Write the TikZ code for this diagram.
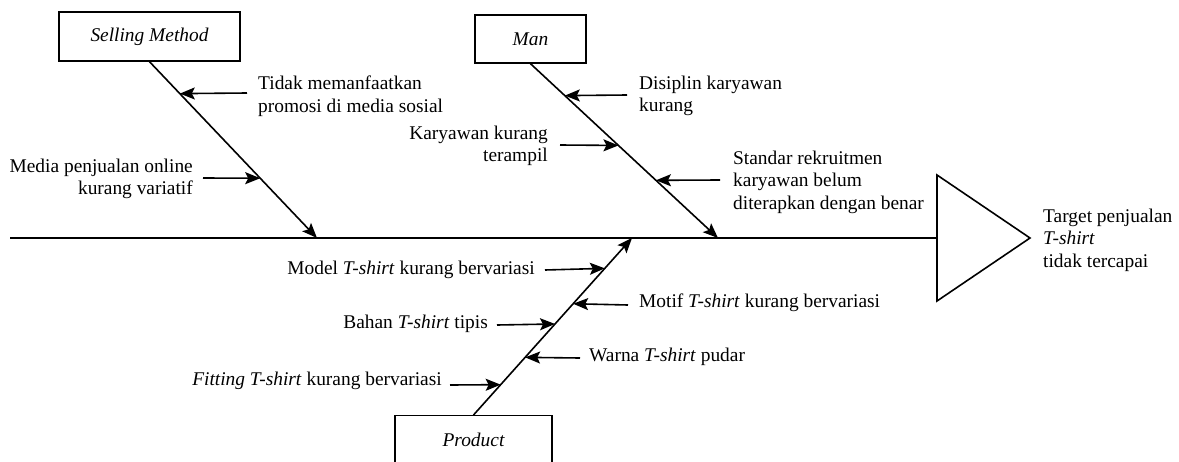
\documentclass[tikz,border=0pt]{standalone}
\usepackage{fontspec}
\setmainfont{Liberation Serif}[Ligatures=TeX]
\usetikzlibrary{arrows.meta}
\tikzset{
  lbl/.style={font=\fontsize{19.4}{22.5}\selectfont, inner sep=0pt},
  catbox/.style={draw, line width=1.4pt, inner sep=0pt, font=\fontsize{19.4}{22.5}\selectfont\itshape},
  bone/.style={line width=1.6pt, -{Stealth[length=15pt,width=12pt,inset=3pt]}},
  sub/.style={line width=1.6pt, -{Stealth[length=15pt,width=12pt,inset=3pt]}},
  spine/.style={line width=1.6pt}
}
\begin{document}
\begin{tikzpicture}[x=1pt,y=-1pt]
\useasboundingbox (0,0) rectangle (1179,461);
% category boxes
\node[catbox, minimum width=181pt, minimum height=49pt] (sm) at (149.5,36.5) {Selling Method};
\node[catbox, minimum width=111pt, minimum height=48pt] (man) at (530.5,39) {Man};
\node[catbox, minimum width=157pt, minimum height=50pt, anchor=north] (prod) at (473.5,415) {};
\node[lbl, font=\fontsize{19.4}{22.5}\selectfont\itshape] (prodt) at (473.5,440) {Product};
% spine and head
\coordinate (sp0) at (10,238);
\coordinate (hA) at (937,175);
\coordinate (hB) at (1030,238);
\coordinate (hC) at (937,301);
\coordinate (hL) at (937,238);
\draw[spine] (sp0) -- (hL);
\draw[spine, line join=miter] (hA) -- (hB) -- (hC) -- cycle;
\node[lbl, align=left, anchor=west] (eff) at (1043,240) {Target penjualan\\\textit{T-shirt}\\tidak tercapai};
% bone end points on spine
\coordinate (smE) at (317,238);
\coordinate (manE) at (718,238);
\coordinate (prE) at (632,238);
\coordinate (smS) at (sm.south);
\coordinate (manS) at (man.south);
\coordinate (prS) at (prod.north);
\draw[bone] (smS) -- (smE);
\draw[bone] (manS) -- (manE);
\draw[bone] (prS) -- (prE);
% Selling method causes
\path (smS) -- (smE) coordinate[pos=0.181] (sm1) coordinate[pos=0.661] (sm2);
\coordinate (sm1s) at (247,93);
\coordinate (sm2s) at (203,178);
\draw[sub] (sm1s) -- (sm1);
\draw[sub] (sm2s) -- (sm2);
\node[lbl, align=left, anchor=west] (t1) at (258,96) {Tidak memanfaatkan\\promosi di media sosial};
\node[lbl, align=right, anchor=east] (t2) at (193,179) {Media penjualan online\\kurang variatif};
% Man causes
\path (manS) -- (manE) coordinate[pos=0.183] (m1) coordinate[pos=0.469] (m2) coordinate[pos=0.669] (m3);
\coordinate (m1s) at (627,95);
\coordinate (m2s) at (560,145);
\coordinate (m3s) at (720,180);
\draw[sub] (m1s) -- (m1);
\draw[sub] (m2s) -- (m2);
\draw[sub] (m3s) -- (m3);
\node[lbl, align=left, anchor=west] (t3) at (639,96) {Disiplin karyawan\\kurang};
\node[lbl, align=right, anchor=east] (t4) at (548,146) {Karyawan kurang\\terampil};
\node[lbl, align=left, anchor=west] (t5) at (733,182) {Standar rekruitmen\\karyawan belum\\diterapkan dengan benar};
% Product causes
\path (prS) -- (prE) coordinate[pos=0.8286] (p1) coordinate[pos=0.6286] (p2) coordinate[pos=0.5143] (p3) coordinate[pos=0.3257] (p4) coordinate[pos=0.1714] (p5);
\coordinate (p1s) at (545,270);
\coordinate (p2s) at (628,305);
\coordinate (p3s) at (497,325);
\coordinate (p4s) at (580,358);
\coordinate (p5s) at (450,385);
\draw[sub] (p1s) -- (p1);
\draw[sub] (p2s) -- (p2);
\draw[sub] (p3s) -- (p3);
\draw[sub] (p4s) -- (p4);
\draw[sub] (p5s) -- (p5);
\node[lbl, anchor=east] (t6) at (535,270) {Model \textit{T-shirt} kurang bervariasi};
\node[lbl, anchor=west] (t7) at (639,303) {Motif \textit{T-shirt} kurang bervariasi};
\node[lbl, anchor=east] (t8) at (488,324) {Bahan \textit{T-shirt} tipis};
\node[lbl, anchor=west] (t9) at (589,357) {Warna \textit{T-shirt} pudar};
\node[lbl, anchor=east] (t10) at (442,381) {\textit{Fitting T-shirt} kurang bervariasi};
\end{tikzpicture}
\end{document}
